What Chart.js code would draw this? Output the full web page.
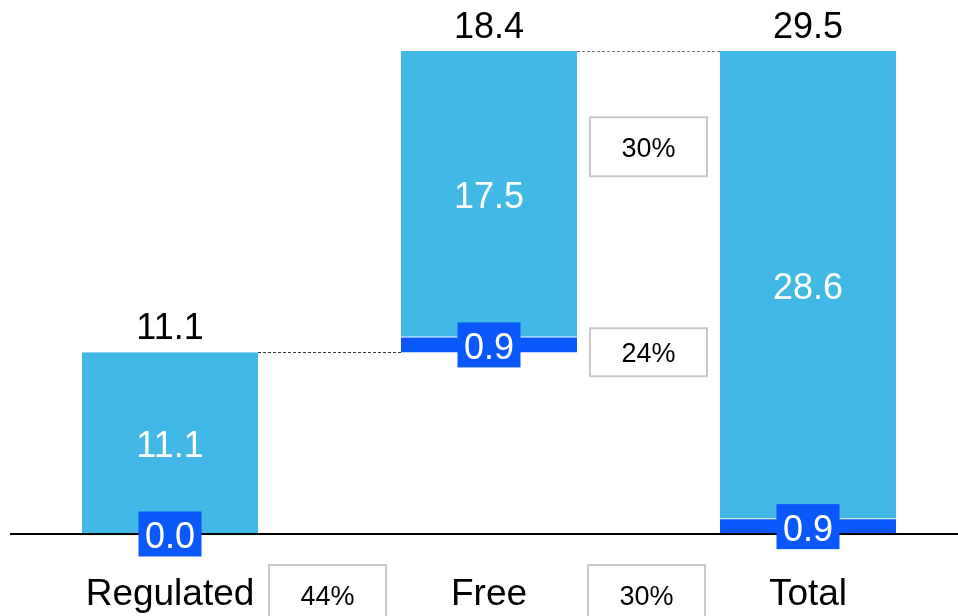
<!DOCTYPE html>
<html><head><meta charset="utf-8">
<script src="https://cdn.jsdelivr.net/npm/chart.js@4.4.1/dist/chart.umd.min.js"></script>
<style>html,body{margin:0;padding:0;background:#fff;} #wrap{width:958px;height:616px;position:relative;}</style>
</head><body><div id="wrap"><canvas id="c" width="958" height="616"></canvas></div>
<script>
const categories = ['Regulated', 'Free', 'Total'];
const darkValues = [0.0, 0.9, 0.9];
const lightValues = [11.1, 17.5, 28.6];
const totalValues = [11.1, 18.4, 29.5];
const isTotalBar = [false, false, true];
const shareLabelsBottom = ['44%', '30%'];
const shareLabelsRight = ['30%', '24%'];

const bases = [];
let run = 0;
categories.forEach((c, i) => {
  if (isTotalBar[i]) { bases.push(0); run = totalValues[i]; }
  else { bases.push(run); run += totalValues[i]; }
});
const darkData = bases.map((b, i) => [b, b + darkValues[i]]);
const lightData = bases.map((b, i) => [b + darkValues[i], b + darkValues[i] + lightValues[i]]);

const DARK = '#0a57fa', LIGHT = '#41b8e5';
const FONT = '"Liberation Sans", Arial, sans-serif';

const overlay = {
  id: 'overlay',
  afterDatasetsDraw(chart) {
    const ctx = chart.ctx, ys = chart.scales.y, xs = chart.scales.x;
    const dm = chart.getDatasetMeta(0).data, lm = chart.getDatasetMeta(1).data;
    ctx.save();
    const y0 = ys.getPixelForValue(0);
    // baseline
    ctx.strokeStyle = '#000'; ctx.lineWidth = 2;
    ctx.beginPath(); ctx.moveTo(10, y0); ctx.lineTo(958, y0); ctx.stroke();
    // connectors
    ctx.lineWidth = 1;
    ctx.setLineDash([3, 2]);
    const connColors = ['#333', '#777'];
    for (let i = 0; i < categories.length - 1; i++) {
      const level = bases[i] + totalValues[i];
      const py = Math.round(ys.getPixelForValue(level)) + 0.5;
      ctx.strokeStyle = connColors[i];
      ctx.beginPath();
      ctx.moveTo(lm[i].x + lm[i].width / 2, py);
      ctx.lineTo(lm[i + 1].x - lm[i + 1].width / 2, py);
      ctx.stroke();
    }
    ctx.setLineDash([]);
    ctx.textAlign = 'center'; ctx.textBaseline = 'alphabetic';
    // light labels and totals
    ctx.font = '36px ' + FONT;
    for (let i = 0; i < categories.length; i++) {
      const el = lm[i];
      ctx.fillStyle = '#fff';
      ctx.fillText(lightValues[i].toFixed(1), el.x, (el.y + el.base) / 2 + 14);
      ctx.fillStyle = '#000';
      ctx.fillText(totalValues[i].toFixed(1), el.x, el.y - 13);
      // category labels
      ctx.font = '37px ' + FONT;
      ctx.fillText(categories[i], el.x, y0 + 71);
      ctx.font = '36px ' + FONT;
    }
    // dark labels with box
    for (let i = 0; i < categories.length; i++) {
      const el = dm[i];
      const cy = (el.y + el.base) / 2;
      ctx.fillStyle = DARK;
      ctx.fillRect(el.x - 31.5, cy - 22.5, 63, 45);
      ctx.fillStyle = '#fff';
      ctx.fillText(darkValues[i].toFixed(1), el.x, cy + 14);
    }
    // share boxes
    ctx.font = '27px ' + FONT;
    const drawBox = (cx, cy, w, h, txt) => {
      ctx.fillStyle = '#fff';
      ctx.fillRect(cx - w / 2, cy - h / 2, w, h);
      ctx.strokeStyle = '#c8c8c8'; ctx.lineWidth = 2;
      ctx.strokeRect(cx - w / 2, cy - h / 2, w, h);
      ctx.fillStyle = '#000';
      ctx.fillText(txt, cx, cy + 10);
    };
    for (let i = 0; i < shareLabelsBottom.length; i++) {
      const cx = (xs.getPixelForValue(i) + xs.getPixelForValue(i + 1)) / 2 - 2;
      drawBox(cx, y0 + 61, 117, 60, shareLabelsBottom[i]);
    }
    const rx = (xs.getPixelForValue(1) + xs.getPixelForValue(2)) / 2;
    drawBox(rx, ys.getPixelForValue(23.65), 117, 59, shareLabelsRight[0]);
    drawBox(rx, ys.getPixelForValue(bases[1]), 117, 48, shareLabelsRight[1]);
    ctx.restore();
  }
};

new Chart(document.getElementById('c'), {
  type: 'bar',
  data: {
    labels: categories,
    datasets: [
      { label: 'dark', data: darkData, backgroundColor: DARK, grouped: false, clip: false,
        categoryPercentage: 1, barPercentage: 0.5517, borderWidth: 0 },
      { label: 'light', data: lightData, backgroundColor: LIGHT, grouped: false, clip: false,
        categoryPercentage: 1, barPercentage: 0.5517,
        borderSkipped: false, borderColor: '#e6f4fb', borderWidth: { top: 0, right: 0, bottom: 1, left: 0 } }
    ]
  },
  options: {
    responsive: false, animation: false,
    layout: { padding: { left: 170, right: 150, top: 51, bottom: 82 } },
    plugins: { legend: { display: false }, tooltip: { enabled: false } },
    scales: {
      x: { type: 'category', offset: false, display: false },
      y: { display: false, min: 0, max: 29.5 }
    }
  },
  plugins: [overlay]
});
</script>
</body></html>
